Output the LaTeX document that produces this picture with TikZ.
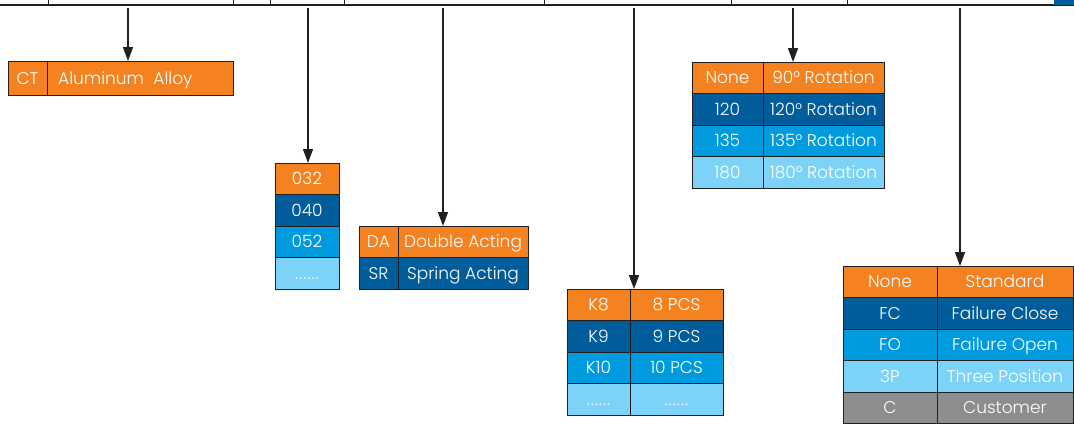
\documentclass[tikz,border=0pt]{standalone}
\usepackage{fontspec}
\setmainfont{Poppins}[UprightFont=* Light]
\usetikzlibrary{positioning,arrows.meta}

\definecolor{codeorange}{HTML}{F58220}
\definecolor{codedark}{HTML}{005D9B}
\definecolor{codemid}{HTML}{009BDE}
\definecolor{codelight}{HTML}{7DD3F7}
\definecolor{codegray}{HTML}{8C8D8F}
\definecolor{linegray}{HTML}{231F20}

\newcommand{\moredots}{.\kern1pt.\kern1pt.\kern1pt.\kern1pt.\kern1pt.}

\begin{document}
\begin{tikzpicture}[x=1pt, y=-1pt, >={Triangle[length=14pt,width=10pt]},
    cell/.style={draw=linegray, line width=0.9pt, outer sep=0pt, inner sep=0pt,
        minimum height=31.5pt, text=white, text height=12pt, text depth=0pt,
        font=\fontsize{17}{17}\selectfont},
    orangecell/.style={cell, fill=codeorange},
    darkcell/.style={cell, fill=codedark},
    midcell/.style={cell, fill=codemid},
    lightcell/.style={cell, fill=codelight},
    graycell/.style={cell, fill=codegray},
    pointer/.style={->, line width=1.5pt, draw=linegray}]

    \useasboundingbox (0,0) rectangle (1074,431);

    % Code line on top
    \draw[line width=1.5pt, linegray] (0,5) -- (1074,5);
    \draw[line width=0.6pt, linegray] (48,0) -- (48,5);
    \draw[line width=0.6pt, linegray] (233,0) -- (233,5);
    \draw[line width=0.6pt, linegray] (270,0) -- (270,5);
    \draw[line width=0.6pt, linegray] (344,0) -- (344,5);
    \draw[line width=0.6pt, linegray] (544,0) -- (544,5);
    \draw[line width=0.6pt, linegray] (731,0) -- (731,5);
    \draw[line width=0.6pt, linegray] (847,0) -- (847,5);
    \fill[codedark] (1054,0) rectangle (1074,4.5);

    % Start points of the arrows
    \coordinate (matTop) at (128,8);
    \coordinate (boreTop) at (308,8);
    \coordinate (actTop) at (443,8);
    \coordinate (springTop) at (634,8);
    \coordinate (rotTop) at (793,8);
    \coordinate (failTop) at (960,8);

    % Material
    \node[orangecell, minimum width=39pt, minimum height=34pt, anchor=north west] (matCode) at (8,61) {CT};
    \node[orangecell, minimum width=186pt, minimum height=34pt, right=0pt of matCode] (matName) {};
    \node[anchor=west, inner sep=0pt, text=white, text height=12pt, text depth=0pt,
        font=\fontsize{17}{17}\selectfont] (matText) at ([xshift=11pt]matName.west) {Aluminum~ Alloy};

    % Bore size
    \node[orangecell, minimum width=64pt, anchor=north west] (bore1) at (275,163) {032};
    \node[darkcell, minimum width=64pt, below=0pt of bore1] (bore2) {040};
    \node[midcell, minimum width=64pt, below=0pt of bore2] (bore3) {052};
    \node[lightcell, minimum width=64pt, below=0pt of bore3] (bore4) {\moredots};

    % Acting type
    \node[orangecell, minimum width=39pt, anchor=north west] (actCode1) at (359,226) {DA};
    \node[orangecell, minimum width=130pt, right=0pt of actCode1] (actName1) {Double Acting};
    \node[darkcell, minimum width=39pt, below=0pt of actCode1] (actCode2) {SR};
    \node[darkcell, minimum width=130pt, right=0pt of actCode2] (actName2) {Spring Acting};

    % Springs
    \node[orangecell, minimum width=63pt, anchor=north west] (springCode1) at (567,289) {K8};
    \node[orangecell, minimum width=93pt, right=0pt of springCode1] (springName1) {8 PCS};
    \node[darkcell, minimum width=63pt, below=0pt of springCode1] (springCode2) {K9};
    \node[darkcell, minimum width=93pt, right=0pt of springCode2] (springName2) {9 PCS};
    \node[midcell, minimum width=63pt, below=0pt of springCode2] (springCode3) {K10};
    \node[midcell, minimum width=93pt, right=0pt of springCode3] (springName3) {10 PCS};
    \node[lightcell, minimum width=63pt, below=0pt of springCode3] (springCode4) {\moredots};
    \node[lightcell, minimum width=93pt, right=0pt of springCode4] (springName4) {\moredots};

    % Rotation
    \node[orangecell, minimum width=71pt, anchor=north west] (rotCode1) at (692,62) {None};
    \node[orangecell, minimum width=121pt, right=0pt of rotCode1] (rotName1) {90° Rotation};
    \node[darkcell, minimum width=71pt, below=0pt of rotCode1] (rotCode2) {120};
    \node[darkcell, minimum width=121pt, right=0pt of rotCode2] (rotName2) {120° Rotation};
    \node[midcell, minimum width=71pt, below=0pt of rotCode2] (rotCode3) {135};
    \node[midcell, minimum width=121pt, right=0pt of rotCode3] (rotName3) {135° Rotation};
    \node[lightcell, minimum width=71pt, below=0pt of rotCode3] (rotCode4) {180};
    \node[lightcell, minimum width=121pt, right=0pt of rotCode4] (rotName4) {180° Rotation};

    % Fail position
    \node[orangecell, minimum width=94pt, anchor=north west] (failCode1) at (843,266) {None};
    \node[orangecell, minimum width=136pt, right=0pt of failCode1] (failName1) {Standard};
    \node[darkcell, minimum width=94pt, below=0pt of failCode1] (failCode2) {FC};
    \node[darkcell, minimum width=136pt, right=0pt of failCode2] (failName2) {Failure Close};
    \node[midcell, minimum width=94pt, below=0pt of failCode2] (failCode3) {FO};
    \node[midcell, minimum width=136pt, right=0pt of failCode3] (failName3) {Failure Open};
    \node[lightcell, minimum width=94pt, below=0pt of failCode3] (failCode4) {3P};
    \node[lightcell, minimum width=136pt, right=0pt of failCode4] (failName4) {Three Position};
    \node[graycell, minimum width=94pt, below=0pt of failCode4] (failCode5) {C};
    \node[graycell, minimum width=136pt, right=0pt of failCode5] (failName5) {Customer};

    % Arrows from the code line down to the tables
    \draw[pointer] (matTop) -- (matTop |- matName.north);
    \draw[pointer] (boreTop) -- (boreTop |- bore1.north);
    \draw[pointer] (actTop) -- (actTop |- actName1.north);
    \draw[pointer] (springTop) -- (springTop |- springName1.north);
    \draw[pointer] (rotTop) -- (rotTop |- rotName1.north);
    \draw[pointer] (failTop) -- (failTop |- failName1.north);

\end{tikzpicture}
\end{document}
